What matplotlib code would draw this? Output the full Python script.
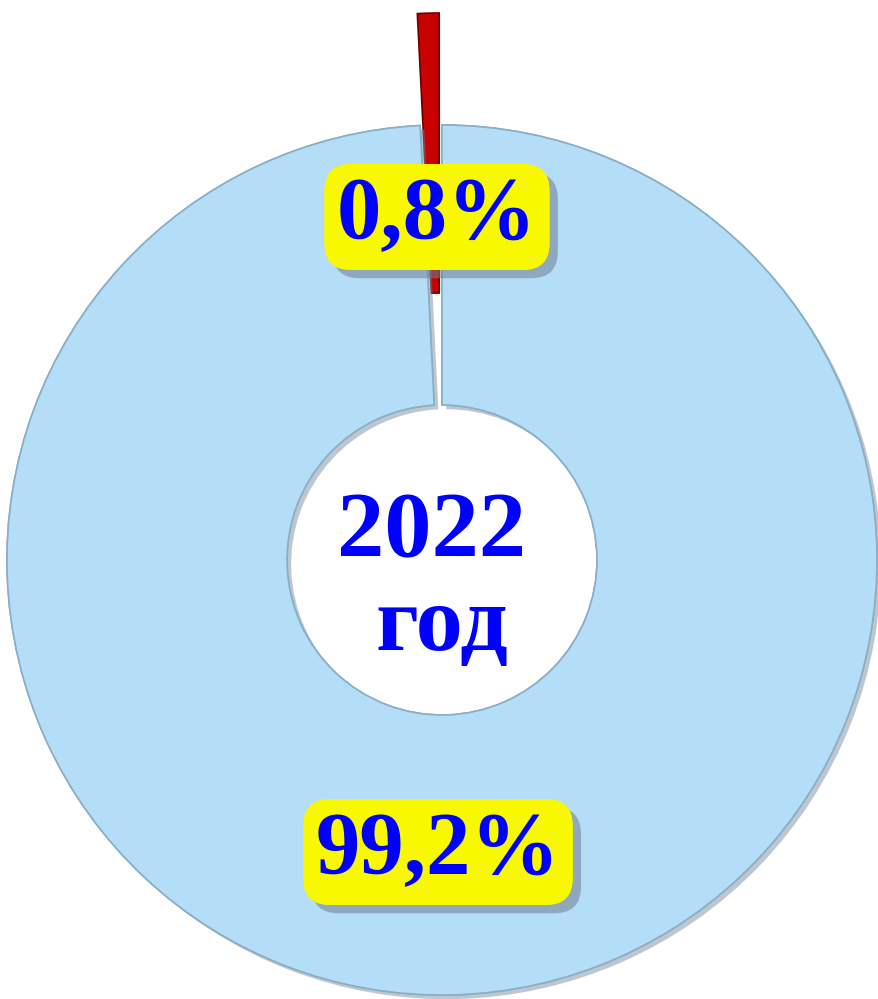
import matplotlib
matplotlib.use('Agg')
import matplotlib.pyplot as plt
import matplotlib.patheffects as pe

shares = [0.8, 99.2]  # percent
labels = ['0,8%', '99,2%']
colors = ['#C80000', '#B4DEF8']
year_lines = ['2022', 'год']

W, H = 879, 999
cx, cy = 442, H - 560
r_out, r_in = 435, 155

fig = plt.figure(figsize=(W / 100, H / 100), dpi=100)
ax = fig.add_axes([0, 0, 1, 1])

# explode in pie is in data units (pixels here)
wedges, _ = ax.pie(shares, colors=colors, startangle=90, counterclock=True,
                   explode=[112, 0], center=(cx, cy), radius=r_out,
                   wedgeprops=dict(width=r_out - r_in, linewidth=1.2),
                   frame=True)
wedges[0].set_edgecolor('#6E0000')
wedges[1].set_edgecolor('#8AAEC6')
wedges[1].set_path_effects([pe.withSimplePatchShadow(offset=(3, -3), shadow_rgbFace='#7F8FA0', alpha=0.5),
                            pe.Normal()])
ax.set_xlim(0, W)
ax.set_ylim(0, H)
ax.set_aspect('auto')
ax.axis('off')

font = dict(family='Liberation Serif', weight='bold', color='#0000FF')

label_pos = [(437, H - 217), (438, H - 852)]
for (x, y), txt in zip(label_pos, labels):
    t = ax.text(x, y, txt, ha='center', va='center', fontsize=64, zorder=5,
                bbox=dict(boxstyle='round,pad=0.14,rounding_size=0.3', fc='#F8F800', ec='none'),
                **font)
    t.get_bbox_patch().set_path_effects([
        pe.withSimplePatchShadow(offset=(6, -6), shadow_rgbFace='#6F7F90', alpha=0.55),
        pe.Normal()])

ax.text(432, H - 534, year_lines[0], ha='center', va='center', fontsize=68, zorder=5, **font)
ax.text(442, H - 628, year_lines[1], ha='center', va='center', fontsize=68, zorder=5, **font)

fig.savefig('out.png', dpi=100)
